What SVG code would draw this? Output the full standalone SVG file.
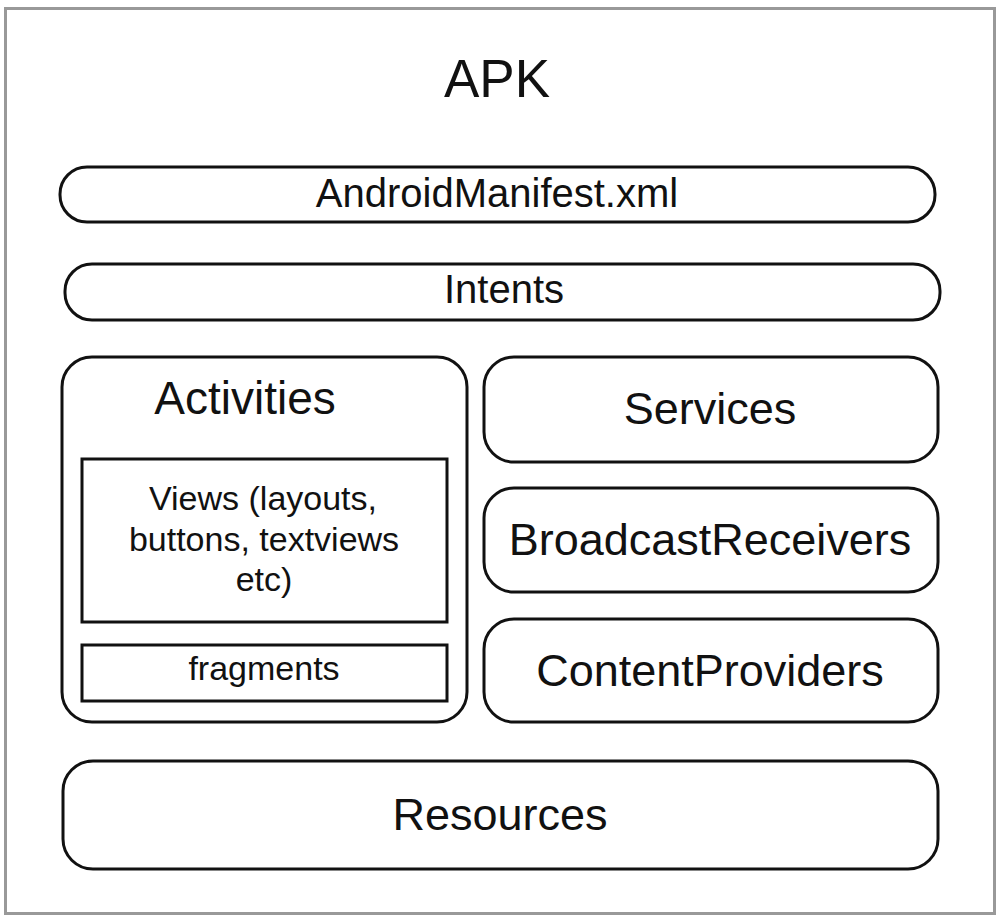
<svg xmlns="http://www.w3.org/2000/svg" width="1000" height="921" viewBox="0 0 1000 921">
<style>
.box{fill:#fff;stroke:#111;stroke-width:3}
.t{font-family:"Liberation Sans",Arial,sans-serif;fill:#111;text-anchor:middle}
</style>
<rect x="0" y="0" width="1000" height="921" fill="#fff"/>
<rect id="frame" x="5.5" y="8.5" width="989" height="905" fill="#fff" stroke="#999" stroke-width="3"/>
<g id="title"><text class="t" x="497" y="97" font-size="53">APK</text></g>
<g id="manifest"><rect class="box" x="60" y="167" width="875" height="55" rx="27"/><text class="t" x="497" y="207" font-size="40">AndroidManifest.xml</text></g>
<g id="intents"><rect class="box" x="65" y="264" width="875" height="56" rx="27"/><text class="t" x="504" y="303" font-size="40">Intents</text></g>
<g id="activities"><rect class="box" x="62" y="357" width="405" height="365" rx="30"/><text class="t" x="245" y="414" font-size="46">Activities</text>
<g id="views"><rect class="box" x="82" y="459" width="365" height="163"/><text class="t" x="263" y="510" font-size="34">Views (layouts,</text><text class="t" x="264" y="551" font-size="34">buttons, textviews</text><text class="t" x="264" y="591" font-size="34">etc)</text></g>
<g id="fragments"><rect class="box" x="82" y="645" width="365" height="56"/><text class="t" x="264" y="680" font-size="34">fragments</text></g></g>
<g id="services"><rect class="box" x="484" y="357" width="454" height="105" rx="30"/><text class="t" x="710" y="424" font-size="45">Services</text></g>
<g id="broadcast"><rect class="box" x="484" y="488" width="454" height="104" rx="30"/><text class="t" x="710" y="555" font-size="45">BroadcastReceivers</text></g>
<g id="content"><rect class="box" x="484" y="619" width="454" height="103" rx="30"/><text class="t" x="710" y="686" font-size="45">ContentProviders</text></g>
<g id="resources"><rect class="box" x="63" y="761" width="875" height="108" rx="30"/><text class="t" x="500" y="830" font-size="45">Resources</text></g>
<g id="connectors"/>
</svg>
